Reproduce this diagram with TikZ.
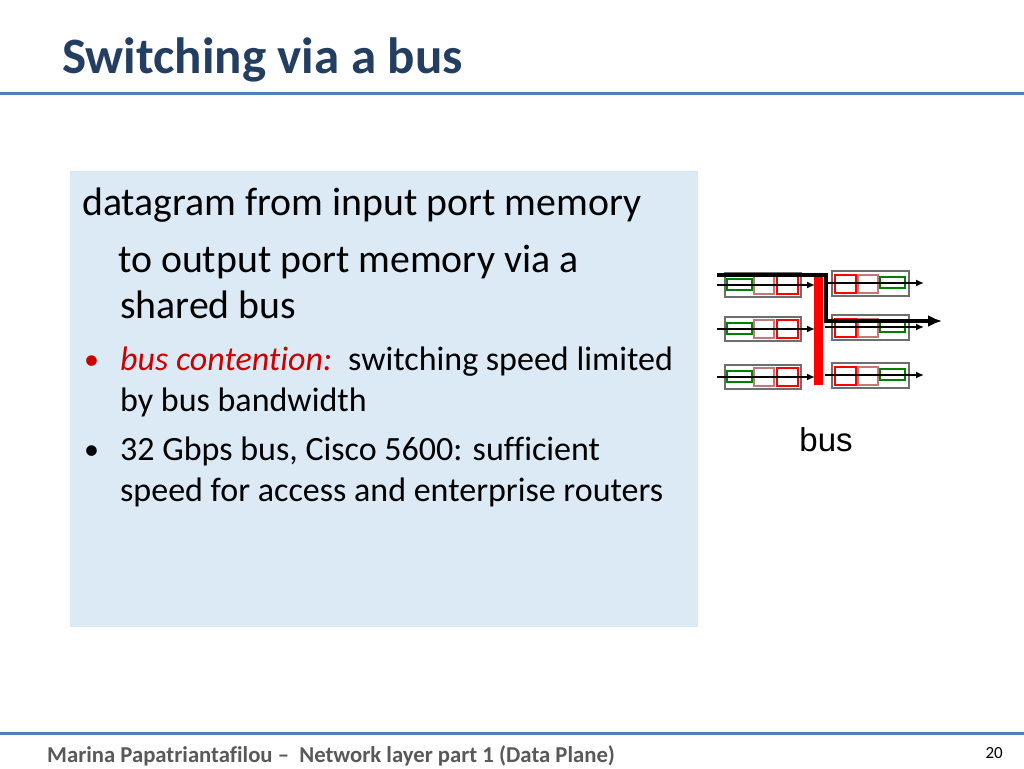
\documentclass[tikz,border=0pt]{standalone}
\usepackage{fontspec}
\setmainfont[Ligatures=NoCommon]{Carlito}
\newfontfamily\arialf{Liberation Sans}
\usetikzlibrary{arrows.meta}
\definecolor{titleblue}{RGB}{36,62,98}
\definecolor{rulerblue}{RGB}{79,129,189}
\definecolor{boxblue}{RGB}{220,234,245}
\definecolor{footgray}{RGB}{89,89,89}
\definecolor{pinkq}{RGB}{195,120,120}
\definecolor{greenq}{RGB}{0,128,0}
\definecolor{portgray}{RGB}{110,110,110}
\definecolor{emred}{RGB}{204,0,0}
\tikzset{
  txt/.style={anchor=base west, inner sep=0pt, font=\fontsize{34}{40}\selectfont},
  bigtxt/.style={anchor=base west, inner sep=0pt, font=\fontsize{39.8}{46}\selectfont},
  bul/.style={anchor=base west, inner sep=0pt, font=\fontsize{30}{34}\selectfont},
  port/.style={draw=portgray, line width=2pt, fill=white},
  gq/.style={draw=greenq, line width=1.6pt},
  pq/.style={draw=pinkq, line width=1.6pt},
  rq/.style={draw=red, line width=1.6pt},
  flow/.style={line width=1.5pt, -{Latex[length=8pt,width=7pt]}},
  bigflow/.style={line width=3.3pt, -{Latex[length=14pt,width=12pt]}},
}
\begin{document}
\begin{tikzpicture}[x=1pt,y=-1pt]
\useasboundingbox (0,0) rectangle (1024,768);
\fill[white] (0,0) rectangle (1024,768);
% title
\node[anchor=base west, inner sep=0pt, text=titleblue, font=\fontsize{51}{58}\selectfont\bfseries] (title) at (62,73) {Switching via a bus};
\draw[rulerblue, line width=3pt] (0,93) -- (1024,93);
% text box
\fill[boxblue] (70,171) rectangle (698,627);
\node[bigtxt] (l1) at (82,215) {datagram from input port memory};
\node[bigtxt] (l2) at (118,272) {to output port memory via a};
\node[bigtxt] (l3) at (120,318) {shared bus};
\node[bul, text=emred] (b1) at (84,369) {•};
\node[txt, text=emred, font=\fontsize{34}{40}\selectfont\itshape] (l4a) at (120,370) {bus contention:};
\node[txt] (l4b) at (348,370) {switching speed limited};
\node[txt] (l5) at (120,411) {by bus bandwidth};
\node[bul] (b2) at (84,459) {•};
\node[txt] (l6) at (120,460) {32 Gbps bus, Cisco 5600: sufficient};
\node[txt] (l7) at (120,501) {speed for access and enterprise routers};
% footer
\draw[rulerblue, line width=3pt] (0,733) -- (1024,733);
\node[anchor=base west, inner sep=0pt, text=footgray, font=\fontsize{22.7}{27}\selectfont\bfseries] (foot) at (47,762) {Marina Papatriantafilou --\ \ Network layer part 1 (Data Plane)};
\node[anchor=base east, inner sep=0pt, text=black, font=\fontsize{17}{20}\selectfont] (pg) at (1003,758) {20};
% diagram: input ports
\foreach \y/\n in {285/1,329/2,377/3}{
  \draw[port] (725,\y-12) rectangle (801,\y+12);
  \draw[gq] (727,\y-6) rectangle (752,\y+5);
  \draw[pq] (754,\y-9) rectangle (774,\y+9);
  \draw[rq] (777,\y-9) rectangle (798,\y+9);
  \coordinate (in\n) at (717,\y);
  \coordinate (bin\n) at (815,\y);
  \draw[flow] (in\n) -- (bin\n);
}
% output ports
\foreach \y/\n in {283/1,327/2,375/3}{
  \draw[port] (832,\y-12) rectangle (909,\y+13);
  \draw[rq] (835,\y-8) rectangle (856,\y+10);
  \draw[pq] (858,\y-8) rectangle (878,\y+10);
  \draw[gq] (880,\y-6) rectangle (905,\y+5);
  \coordinate (bout\n) at (825,\y);
  \coordinate (out\n) at (924,\y);
  \draw[flow] (bout\n) -- (out\n);
}
% bus
\fill[red] (814,273) rectangle (823,385);
\coordinate (bs) at (717,275);
\coordinate (be) at (942,321);
\draw[bigflow, line join=miter] (bs) -- (826,275) -- (826,321) -- (be);
\node[inner sep=0pt, font=\arialf\fontsize{33}{38}\selectfont] (buslbl) at (826,440) {bus};
\end{tikzpicture}
\end{document}
